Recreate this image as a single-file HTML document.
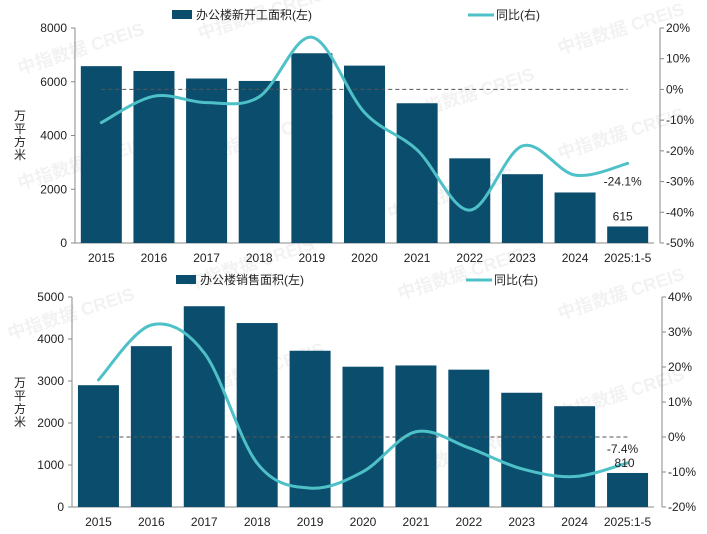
<!DOCTYPE html>
<html><head><meta charset="utf-8"><style>
html,body{margin:0;padding:0;background:#fff;}
svg{display:block;font-family:"Liberation Sans","Noto Sans CJK SC",sans-serif;}
</style></head><body>
<svg id="c" width="707" height="534" viewBox="0 0 707 534" xmlns="http://www.w3.org/2000/svg"></svg>
<script>
const categories=["2015","2016","2017","2018","2019","2020","2021","2022","2023","2024","2025:1-5"];
const startsValues=[6580,6400,6120,6030,7060,6600,5200,3150,2560,1880,615];
const startsYoY=[-10.8,-2.2,-4.3,-2.4,17,-7.5,-19.7,-39.3,-18.4,-27.9,-24.1];
const salesValues=[2900,3830,4780,4380,3720,3340,3370,3270,2720,2400,810];
const salesYoY=[16.3,32,24,-7.5,-14.6,-9.9,1.5,-3.1,-9.1,-11.3,-7.4];
const startsLeftTicks=[0,2000,4000,6000,8000];
const startsRightTicks=[20,10,0,-10,-20,-30,-40,-50];
const salesLeftTicks=[0,1000,2000,3000,4000,5000];
const salesRightTicks=[40,30,20,10,0,-10,-20];

const NS="http://www.w3.org/2000/svg";
const svg=document.getElementById('c');
function mk(tag,attrs,parent,text){const e=document.createElementNS(NS,tag);for(const k in attrs)e.setAttribute(k,attrs[k]);if(text!==undefined)e.textContent=text;(parent||svg).appendChild(e);return e;}
const BAR="#0b4d6d",LINE="#4ec1c8";

const wm=[[20,75],[200,40],[20,190],[210,160],[410,120],[190,290],[10,340],[200,395],[400,300],[560,55],[560,160],[560,320],[560,420],[400,480],[390,220]];
wm.forEach(p=>{const t=mk('text',{x:p[0],y:p[1],'font-size':18,'font-weight':'bold',fill:'#000','fill-opacity':'0.05',transform:`rotate(-18 ${p[0]} ${p[1]})`},svg,'中指数据 CREIS');
});

function spline(pts){let d=`M${pts[0][0]},${pts[0][1]}`;for(let i=0;i<pts.length-1;i++){const p0=pts[i-1]||pts[i],p1=pts[i],p2=pts[i+1],p3=pts[i+2]||p2;const c1x=p1[0]+(p2[0]-p0[0])/6,c1y=p1[1]+(p2[1]-p0[1])/6,c2x=p2[0]-(p3[0]-p1[0])/6,c2y=p2[1]-(p3[1]-p1[1])/6;d+=` C${c1x},${c1y} ${c2x},${c2y} ${p2[0]},${p2[1]}`;}return d;}

function chart(o){
  const g=mk('g',{},svg);
  const x0=o.x0,x1=o.x1,yT=o.yT,yB=o.yB,step=(x1-x0)/categories.length;
  const yL=v=>yB-(v-o.lmin)/(o.lmax-o.lmin)*(yB-yT);
  const yR=v=>yB-(v-o.rmin)/(o.rmax-o.rmin)*(yB-yT);
  const xc=i=>x0+step*(i+0.5);
  const la=mk('line',{x1:x0,y1:yT,x2:x0,y2:yB,stroke:'#888','stroke-width':1},g);
  const ra=mk('line',{x1:o.rx,y1:yT,x2:o.rx,y2:yB,stroke:'#888','stroke-width':1},g);
  const xa=mk('line',{x1:x0,y1:yB,x2:x1,y2:yB,stroke:'#888','stroke-width':1},g);
  o.lt.forEach(v=>{const y=yL(v);mk('line',{x1:x0-4,y1:y,x2:x0,y2:y,stroke:'#888'},g);
    const t=mk('text',{x:x0-8,y:y+4,'font-size':12,'text-anchor':'end',fill:'#222'},g,String(v));});
  o.rt.forEach(v=>{const y=yR(v);mk('line',{x1:o.rx,y1:y,x2:o.rx+4,y2:y,stroke:'#888'},g);
    const t=mk('text',{x:o.rx+6,y:y+4,'font-size':12,fill:'#222'},g,v+'%');});
  const yl=mk('text',{x:20,y:o.ylY,'font-size':12,'text-anchor':'middle',fill:'#222'},g);
  ['万','平','方','米'].forEach((c,i)=>mk('tspan',{x:20,dy:i?13:0},yl,c));
  o.vals.forEach((v,i)=>{const y=yL(v);const r=mk('rect',{x:xc(i)-20.5,y:y,width:41,height:yB-y,fill:BAR},g);
    
    const t=mk('text',{x:xc(i),y:yB+19,'font-size':12,'text-anchor':'middle',fill:'#222'},g,categories[i]);});
  const z=mk('line',{x1:xc(0),y1:yR(0),x2:xc(categories.length-1),y2:yR(0),stroke:'#555','stroke-dasharray':'4,3','stroke-width':1},g);
  const pts=o.yoy.map((v,i)=>[xc(i),yR(v)]);
  const p=mk('path',{d:spline(pts),fill:'none',stroke:LINE,'stroke-width':3,'stroke-linecap':'round'},g);
  const n=categories.length-1;
  const l1=mk('text',{x:xc(n)-5,y:yR(o.yoy[n])+o.yoyDy,'font-size':12,'text-anchor':'middle',fill:'#222'},g,o.yoy[n].toFixed(1)+'%');
  const l2=mk('text',{x:xc(n)-5+o.vdx,y:yL(o.vals[n])-6,'font-size':12,'text-anchor':'middle',fill:'#222'},g,String(o.vals[n]));
  const lr=mk('rect',{x:o.legX,y:o.legY-5,width:20,height:9,fill:BAR},g);
  const lt=mk('text',{x:o.legX+24,y:o.legY+4,'font-size':12,fill:'#222'},g,o.legText);
  const ll=mk('line',{x1:o.leg2X,y1:o.legY,x2:o.leg2X+26,y2:o.legY,stroke:LINE,'stroke-width':3},g);
  const lt2=mk('text',{x:o.leg2X+28,y:o.legY+4,'font-size':12,fill:'#222'},g,'同比(右)');
}
chart({name:'starts-chart',x0:75,x1:654,rx:660,yT:28,yB:243,lmin:0,lmax:8000,rmin:-50,rmax:20,lt:startsLeftTicks,rt:startsRightTicks,vals:startsValues,yoy:startsYoY,yoyDy:22,vdx:0,ylY:120,legX:172,leg2X:468,legY:15,legText:'办公楼新开工面积(左)'});
chart({name:'sales-chart',x0:72,x1:654,rx:662,yT:297,yB:507,lmin:0,lmax:5000,rmin:-20,rmax:40,lt:salesLeftTicks,rt:salesRightTicks,vals:salesValues,yoy:salesYoY,yoyDy:-10,vdx:2,ylY:387,legX:176,leg2X:466,legY:280,legText:'办公楼销售面积(左)'});
</script>
</body></html>
